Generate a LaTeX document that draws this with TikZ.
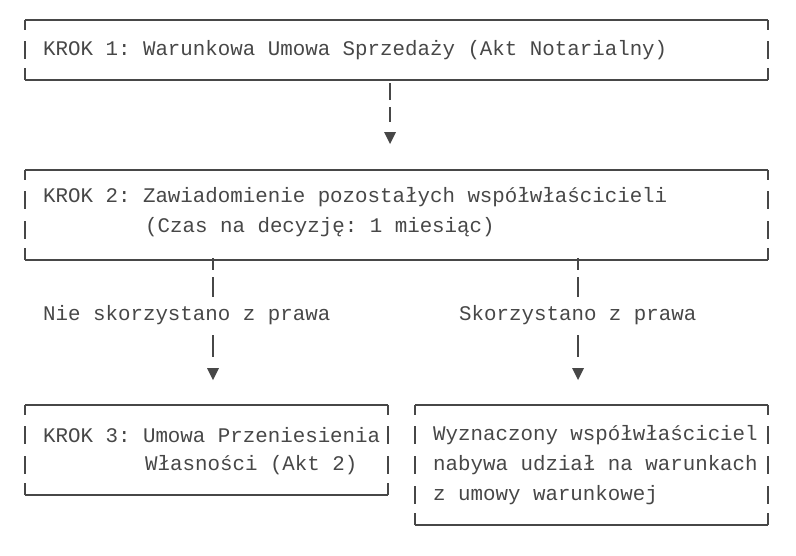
\documentclass[tikz,border=0pt]{standalone}
\usepackage{fontspec}
\setmainfont{Liberation Mono}
\frenchspacing
\begin{document}
\begin{tikzpicture}[x=1pt,y=-1pt,
  ln/.style={draw=black!72,line width=1.8pt},
  txt/.style={anchor=west,inner sep=0pt,text=black!72,font=\fontsize{20.8}{24}\selectfont}]
\useasboundingbox (0,0) rectangle (796,555);
\newcommand\asciibox[4]{%
  \pgfmathsetmacro\bot{#3+30*(#4+1)}
  \draw[ln] (#1,#3) -- (#2,#3);
  \draw[ln] (#1,\bot) -- (#2,\bot);
  \foreach \xx in {#1,#2}{
    \draw[ln] (\xx,#3) -- (\xx,#3+10);
    \draw[ln] (\xx,\bot-12) -- (\xx,\bot);
    \foreach \i in {1,...,#4}{\draw[ln] (\xx,#3+30*\i-9) -- (\xx,#3+30*\i+9);}
  }}
\newcommand\arr[2]{\fill[black!72] (#1-6,#2-6) -- (#1+6,#2-6) -- (#1,#2+6) -- cycle;}
\asciibox{25}{768}{20}{1}
\asciibox{25}{768}{170}{2}
\asciibox{25}{388}{405}{2}
\asciibox{415}{768}{405}{3}
\node[txt] (k1) at (43,50) {KROK 1: Warunkowa Umowa Sprzedaży (Akt Notarialny)};
\node[txt] (k2) at (43,197) {KROK 2: Zawiadomienie pozostałych współwłaścicieli};
\node[txt] (k2b) at (145,227) {(Czas na decyzję: 1 miesiąc)};
\node[txt] (k3) at (43,435) {KROK 3: Umowa Przeniesienia};
\node[txt] (k3b) at (145,465) {Własności (Akt 2)};
\node[txt] (w1) at (433,435) {Wyznaczony współwłaściciel};
\node[txt] (w2) at (433,465) {nabywa udział na warunkach};
\node[txt] (w3) at (433,495) {z umowy warunkowej};
\node[txt] (l1) at (43,315) {Nie skorzystano z prawa};
\node[txt] (l2) at (459,315) {Skorzystano z prawa};
\draw[ln] (390,83) -- (390,100); \draw[ln] (390,107) -- (390,122); \arr{390}{138}
\foreach \xx in {213,578}{
  \draw[ln] (\xx,258) -- (\xx,270); \draw[ln] (\xx,277) -- (\xx,297);
  \draw[ln] (\xx,335) -- (\xx,357); \arr{\xx}{374}
}
\end{tikzpicture}
\end{document}
